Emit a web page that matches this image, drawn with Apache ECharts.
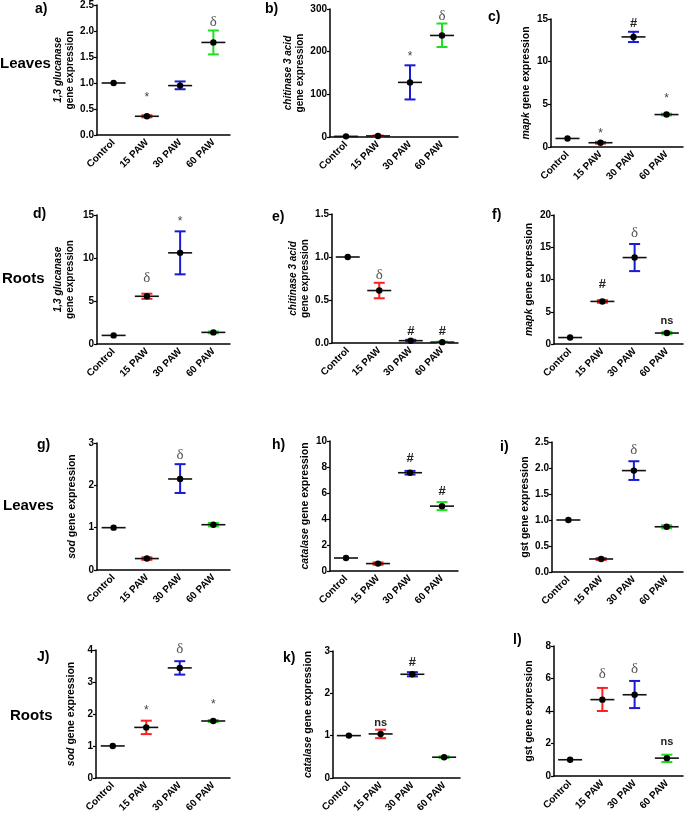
<!DOCTYPE html>
<html>
<head>
<meta charset="utf-8">
<script src="https://cdn.jsdelivr.net/npm/echarts@6/dist/echarts.min.js"></script>
<style>
  html, body { margin: 0; padding: 0; background: #fff; }
  #chart { width: 685px; height: 815px; }
</style>
</head>
<body>
<div id="chart"></div>
<script>
// categories
var groups = ['Control', '15 PAW', '30 PAW', '60 PAW'];
var groupColors = ['#000000', '#ff1f1f', '#1a1ad6', '#1fe01f'];

// a) 1,3 glucanase - leaves
var aMean = [1.0, 0.36, 0.95, 1.78];
var aLow  = [1.0, 0.34, 0.88, 1.55];
var aHigh = [1.0, 0.38, 1.03, 2.01];
var aMarks = [[1, 0.72, '*'], [3, 2.17, 'δ']];

// b) chitinase 3 acid - leaves
var bMean = [1.5, 2.5, 128, 238];
var bLow  = [1.5, 1.5, 88, 211];
var bHigh = [1.5, 3.5, 168, 266];
var bMarks = [[2, 189, '*'], [3, 284, 'δ']];

// c) mapk - leaves
var cMean = [1.0, 0.5, 12.9, 3.8];
var cLow  = [1.0, 0.4, 12.3, 3.7];
var cHigh = [1.0, 0.6, 13.5, 3.9];
var cMarks = [[1, 1.6, '*'], [2, 14.5, '#'], [3, 5.7, '*']];

// d) 1,3 glucanase - roots
var dMean = [1.0, 5.55, 10.6, 1.35];
var dLow  = [1.0, 5.25, 8.1, 1.25];
var dHigh = [1.0, 5.85, 13.1, 1.45];
var dMarks = [[1, 7.7, 'δ'], [2, 14.2, '*']];

// e) chitinase 3 acid - roots
var eMean = [1.0, 0.61, 0.027, 0.01];
var eLow  = [1.0, 0.52, 0.017, 0.004];
var eHigh = [1.0, 0.70, 0.037, 0.016];
var eMarks = [[1, 0.79, 'δ'], [2, 0.13, '#'], [3, 0.13, '#']];

// f) mapk - roots
var fMean = [1.0, 6.6, 13.4, 1.7];
var fLow  = [1.0, 6.4, 11.3, 1.5];
var fHigh = [1.0, 6.8, 15.5, 1.9];
var fMarks = [[1, 9.2, '#'], [2, 17.2, 'δ'], [3, 3.5, 'ns']];

// g) sod - leaves
var gMean = [1.0, 0.27, 2.15, 1.07];
var gLow  = [1.0, 0.24, 1.82, 1.03];
var gHigh = [1.0, 0.30, 2.50, 1.11];
var gMarks = [[2, 2.71, 'δ']];

// h) catalase - leaves
var hMean = [1.0, 0.57, 7.56, 4.99];
var hLow  = [1.0, 0.48, 7.42, 4.68];
var hHigh = [1.0, 0.66, 7.70, 5.30];
var hMarks = [[2, 8.66, '#'], [3, 6.1, '#']];

// i) gst - leaves
var iMean = [1.0, 0.25, 1.95, 0.87];
var iLow  = [1.0, 0.23, 1.77, 0.84];
var iHigh = [1.0, 0.27, 2.13, 0.90];
var iMarks = [[2, 2.34, 'δ']];

// j) sod - roots
var jMean = [1.0, 1.58, 3.44, 1.78];
var jLow  = [1.0, 1.37, 3.23, 1.75];
var jHigh = [1.0, 1.79, 3.65, 1.81];
var jMarks = [[1, 2.1, '*'], [2, 4.03, 'δ'], [3, 2.29, '*']];

// k) catalase - roots
var kMean = [1.0, 1.04, 2.45, 0.49];
var kLow  = [1.0, 0.94, 2.40, 0.47];
var kHigh = [1.0, 1.14, 2.50, 0.51];
var kMarks = [[1, 1.29, 'ns'], [2, 2.74, '#']];

// l) gst - roots
var lMean = [1.0, 4.7, 5.0, 1.1];
var lLow  = [1.0, 4.0, 4.18, 0.86];
var lHigh = [1.0, 5.42, 5.85, 1.31];
var lMarks = [[1, 6.3, 'δ'], [2, 6.6, 'δ'], [3, 2.1, 'ns']];

var FONT = '"Liberation Sans", Arial, sans-serif';

// panel layout + axis setup
var panels = [
  { mean: aMean, low: aLow, high: aHigh, marks: aMarks, grid: [97, 5, 133, 130], max: 2.5, step: 0.5, dec: 1, name: '{it|1,3 glucanase}\n{n|gene expression}' },
  { mean: bMean, low: bLow, high: bHigh, marks: bMarks, grid: [330, 9, 128, 128], max: 300, step: 100, dec: 0, name: '{it|chitinase 3 acid}\n{n|gene expression}' },
  { mean: cMean, low: cLow, high: cHigh, marks: cMarks, grid: [551, 19, 132, 128], max: 15, step: 5, dec: 0, name: '{it|mapk}{n| gene expression}' },
  { mean: dMean, low: dLow, high: dHigh, marks: dMarks, grid: [97, 215, 133, 129], max: 15, step: 5, dec: 0, name: '{it|1,3 glucanase}\n{n|gene expression}' },
  { mean: eMean, low: eLow, high: eHigh, marks: eMarks, grid: [332, 214, 126, 129], max: 1.5, step: 0.5, dec: 1, name: '{it|chitinase 3 acid}\n{n|gene expression}' },
  { mean: fMean, low: fLow, high: fHigh, marks: fMarks, grid: [554, 215, 129, 129], max: 20, step: 5, dec: 0, name: '{it|mapk}{n| gene expression}' },
  { mean: gMean, low: gLow, high: gHigh, marks: gMarks, grid: [97, 443, 133, 127], max: 3, step: 1, dec: 0, name: '{it|sod}{n| gene expression}' },
  { mean: hMean, low: hLow, high: hHigh, marks: hMarks, grid: [330, 441, 128, 130], max: 10, step: 2, dec: 0, name: '{it|catalase}{n| gene expression}' },
  { mean: iMean, low: iLow, high: iHigh, marks: iMarks, grid: [552, 442, 131, 130], max: 2.5, step: 0.5, dec: 1, name: '{n|gst gene expression}' },
  { mean: jMean, low: jLow, high: jHigh, marks: jMarks, grid: [96, 650, 134, 128], max: 4, step: 1, dec: 0, name: '{it|sod}{n| gene expression}' },
  { mean: kMean, low: kLow, high: kHigh, marks: kMarks, grid: [333, 651, 127, 128], max: 3, step: 1, dec: 0, name: '{it|catalase}{n| gene expression}' },
  { mean: lMean, low: lLow, high: lHigh, marks: lMarks, grid: [554, 646, 129, 130], max: 8, step: 2, dec: 0, name: '{n|gst gene expression}' }
];

var panelLetters = [
  ['a)', 35, 2], ['b)', 265, 2], ['c)', 488, 10],
  ['d)', 33, 207], ['e)', 272, 210], ['f)', 492, 208],
  ['g)', 37, 438], ['h)', 272, 438], ['i)', 500, 440],
  ['J)', 37, 650], ['k)', 283, 651], ['l)', 513, 633]
];
var rowLabels = [['Leaves', 0, 56], ['Roots', 2, 271], ['Leaves', 3, 498], ['Roots', 10, 708]];

function renderErr(params, api) {
  var c = api.value(0), m = api.value(1), lo = api.value(2), hi = api.value(3);
  var pm = api.coord([c, m]);
  var pl = api.coord([c, lo]);
  var ph = api.coord([c, hi]);
  var col = groupColors[c];
  var kids = [];
  if (hi > lo) {
    var st = { stroke: col, lineWidth: 2 };
    kids.push({ type: 'line', shape: { x1: pm[0], y1: pl[1], x2: pm[0], y2: ph[1] }, style: st });
    kids.push({ type: 'line', shape: { x1: pm[0] - 5.5, y1: pl[1], x2: pm[0] + 5.5, y2: pl[1] }, style: st });
    kids.push({ type: 'line', shape: { x1: pm[0] - 5.5, y1: ph[1], x2: pm[0] + 5.5, y2: ph[1] }, style: st });
  }
  kids.push({ type: 'line', shape: { x1: pm[0] - 12, y1: pm[1], x2: pm[0] + 12, y2: pm[1] }, style: { stroke: '#111', lineWidth: 1.6 } });
  kids.push({ type: 'circle', shape: { cx: pm[0], cy: pm[1], r: 3.2 }, style: { fill: '#000' } });
  return { type: 'group', children: kids };
}

function renderMark(params, api) {
  var p = api.coord([api.value(0), api.value(1)]);
  var t = params.context.marks[params.dataIndex][2];
  var st = { text: t, x: p[0], y: p[1], align: 'center', verticalAlign: 'middle', fill: '#333' };
  if (t === 'δ') { st.font = '15px "Liberation Serif", "Times New Roman", serif'; st.fill = '#555'; }
  else if (t === '#') { st.font = 'bold 13px ' + FONT; st.fill = '#222'; }
  else if (t === 'ns') { st.font = 'bold 11px ' + FONT; st.fill = '#222'; }
  else { st.font = '12px ' + FONT; st.fill = '#444'; }
  return { type: 'text', style: st };
}

var grids = [], xAxes = [], yAxes = [], series = [];
panels.forEach(function (p, idx) {
  var twoLine = p.name.indexOf('\n') >= 0;
  var fs = twoLine ? 10 : 10.5;
  grids.push({ left: p.grid[0], top: p.grid[1], width: p.grid[2], height: p.grid[3] });
  xAxes.push({
    type: 'category', gridIndex: idx, data: groups, boundaryGap: true,
    axisLine: { lineStyle: { color: '#000', width: 1.5 } },
    axisTick: { alignWithLabel: true, length: 3, lineStyle: { color: '#000', width: 1.2 } },
    axisLabel: { rotate: 45, interval: 0, margin: 6, color: '#000', fontFamily: FONT, fontWeight: 'bold', fontSize: 10 }
  });
  yAxes.push({
    type: 'value', gridIndex: idx, min: 0, max: p.max, interval: p.step,
    splitLine: { show: false },
    axisLine: { show: true, lineStyle: { color: '#000', width: 1.5 } },
    axisTick: { show: true, length: 3, lineStyle: { color: '#000', width: 1.2 } },
    axisLabel: {
      margin: 3, color: '#000', fontFamily: FONT, fontWeight: 'bold', fontSize: 10,
      formatter: (function (d) { return function (v) { return v.toFixed(d); }; })(p.dec)
    },
    name: p.name, nameLocation: 'middle', nameGap: twoLine ? 21 : 19,
    nameTextStyle: {
      color: '#000', fontFamily: FONT, fontSize: fs, lineHeight: 12,
      rich: {
        it: { fontStyle: 'italic', fontWeight: 'bold', fontSize: fs, fontFamily: FONT, color: '#000', lineHeight: 12 },
        n: { fontWeight: 'bold', fontSize: fs, fontFamily: FONT, color: '#000', lineHeight: 12 }
      }
    }
  });
  var errData = p.mean.map(function (m, i) { return [i, m, p.low[i], p.high[i]]; });
  series.push({
    type: 'custom', xAxisIndex: idx, yAxisIndex: idx, data: errData,
    encode: { x: 0, y: [1, 2, 3] }, renderItem: renderErr, silent: true, clip: false
  });
  var markData = p.marks.map(function (mk) { return [mk[0], mk[1]]; });
  series.push({
    type: 'custom', xAxisIndex: idx, yAxisIndex: idx, data: markData,
    encode: { x: 0, y: 1 }, silent: true, clip: false,
    renderItem: (function (marks) {
      return function (params, api) { params.context.marks = marks; return renderMark(params, api); };
    })(p.marks)
  });
});

var graphics = [];
panelLetters.forEach(function (l) {
  graphics.push({ type: 'text', left: l[1], top: l[2], style: { text: l[0], font: 'bold 14px ' + FONT, fill: '#000' } });
});
rowLabels.forEach(function (l) {
  graphics.push({ type: 'text', left: l[1], top: l[2], style: { text: l[0], font: 'bold 15px ' + FONT, fill: '#000' } });
});

var chart = echarts.init(document.getElementById('chart'), null, { renderer: 'canvas' });
chart.setOption({
  animation: false,
  backgroundColor: '#fff',
  grid: grids,
  xAxis: xAxes,
  yAxis: yAxes,
  series: series,
  graphic: graphics
});
</script>
</body>
</html>
